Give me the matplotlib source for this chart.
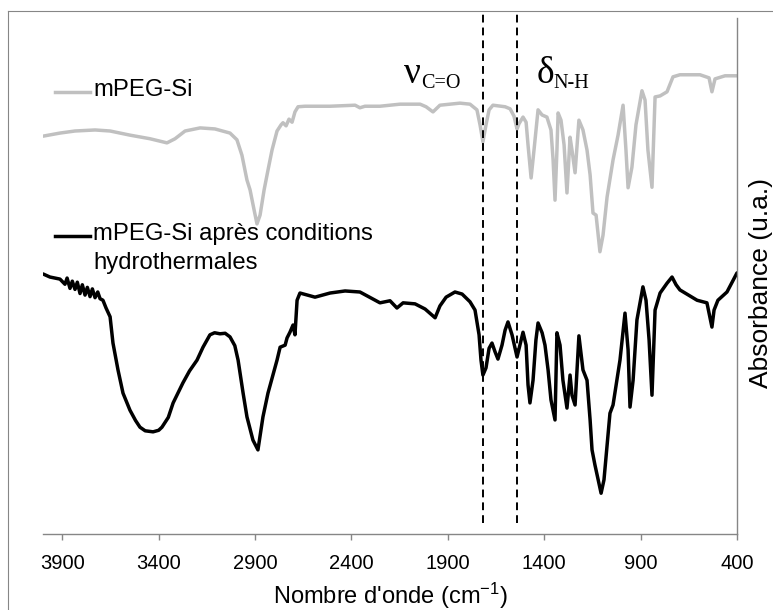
import matplotlib
matplotlib.use("Agg")
import matplotlib.pyplot as plt
from matplotlib.lines import Line2D

plt.rcParams["font.family"] = ["Liberation Sans", "DejaVu Sans"]
plt.rcParams["mathtext.fontset"] = "custom"
plt.rcParams["mathtext.rm"] = "Liberation Sans"
plt.rcParams["mathtext.it"] = "Liberation Sans:italic"
plt.rcParams["mathtext.bf"] = "Liberation Sans:bold"

# --- data (absorbance in arbitrary units) ---
series_names = ["mPEG-Si", "mPEG-Si après conditions\nhydrothermales"]

wn_peg = [4000, 3912, 3834, 3730, 3652, 3549, 3445, 3357, 3315, 3263,
          3185, 3108, 3030, 2994, 2968, 2942, 2926, 2905, 2890, 2874,
          2853, 2833, 2812, 2786, 2765, 2755, 2739, 2724, 2708, 2693,
          2677, 2641, 2511, 2381, 2356, 2330, 2252, 2148, 2044, 2013,
          1977, 1941, 1837, 1785, 1749, 1733, 1718, 1702, 1686, 1666,
          1603, 1577, 1557, 1541, 1531, 1510, 1494, 1484, 1468, 1453,
          1432, 1411, 1386, 1365, 1354, 1344, 1334, 1328, 1313, 1297,
          1282, 1266, 1256, 1240, 1220, 1199, 1178, 1162, 1147, 1131,
          1111, 1095, 1074, 1043, 1017, 991, 976, 965, 945, 924,
          893, 877, 862, 841, 825, 799, 763, 732, 696, 592,
          545, 530, 514, 462, 400]
abs_peg = [77.1, 77.7, 78.1, 78.3, 78.1, 77.3, 76.6, 75.8, 76.6, 78.1,
           78.7, 78.5, 77.7, 76.4, 73.4, 68.6, 66.7, 62.8, 60.1, 61.8,
           66.7, 70.5, 74.4, 78.1, 79.3, 79.7, 79.1, 80.4, 79.8, 81.8,
           82.8, 82.9, 82.9, 83.1, 82.6, 82.9, 82.9, 83.3, 83.3, 82.8,
           81.8, 83.1, 83.5, 83.3, 82.2, 79.3, 76.0, 79.3, 82.2, 83.1,
           82.8, 82.4, 81.0, 78.5, 79.5, 80.8, 79.8, 75.4, 69.0, 74.4,
           82.2, 81.2, 80.8, 78.3, 72.5, 64.7, 74.4, 81.6, 80.2, 75.4,
           66.1, 76.9, 74.4, 70.0, 80.2, 78.3, 74.4, 69.6, 62.2, 61.8,
           54.7, 57.9, 65.3, 72.5, 77.3, 83.1, 74.4, 67.1, 71.1, 79.3,
           85.9, 84.1, 74.4, 67.2, 84.7, 84.9, 85.7, 88.6, 89.0, 89.0,
           88.4, 85.7, 88.2, 88.8, 88.8]

wn_hydro = [4000, 3964, 3912, 3886, 3875, 3860, 3848, 3834, 3822, 3808,
            3796, 3782, 3770, 3756, 3744, 3730, 3716, 3704, 3689, 3673,
            3652, 3637, 3611, 3585, 3549, 3520, 3497, 3470, 3429, 3400,
            3383, 3350, 3325, 3274, 3240, 3201, 3170, 3134, 3110, 3082,
            3055, 3030, 3005, 2988, 2962, 2942, 2911, 2885, 2859, 2833,
            2786, 2770, 2744, 2734, 2719, 2703, 2693, 2682, 2667, 2589,
            2511, 2433, 2356, 2252, 2200, 2164, 2132, 2070, 2018, 1966,
            1941, 1909, 1863, 1826, 1785, 1759, 1738, 1728, 1718, 1702,
            1686, 1671, 1655, 1640, 1619, 1603, 1588, 1567, 1541, 1526,
            1510, 1494, 1484, 1474, 1458, 1443, 1432, 1411, 1396, 1380,
            1365, 1344, 1334, 1318, 1303, 1282, 1266, 1256, 1240, 1230,
            1220, 1199, 1178, 1162, 1152, 1137, 1105, 1090, 1074, 1059,
            1043, 1007, 981, 965, 955, 939, 919, 888, 872, 856,
            841, 825, 799, 763, 737, 716, 696, 607, 556, 530,
            519, 499, 452, 400]
abs_hydro = [50.4, 49.8, 49.4, 48.4, 49.6, 47.6, 49.0, 47.4, 48.8, 46.6,
             48.3, 46.3, 47.8, 46.0, 47.5, 45.8, 46.9, 45.6, 45.3, 43.8,
             42.1, 37.0, 31.8, 27.3, 24.0, 22.0, 20.7, 20.0, 19.8, 20.1,
             20.7, 22.6, 25.4, 29.3, 31.6, 33.7, 36.2, 38.6, 39.0, 38.8,
             38.9, 38.2, 36.5, 33.7, 27.3, 22.7, 18.2, 16.3, 22.7, 27.3,
             33.7, 36.2, 36.6, 38.0, 39.1, 40.5, 38.6, 45.3, 46.7, 45.9,
             46.7, 47.1, 46.9, 44.8, 45.2, 43.8, 44.8, 44.6, 43.6, 41.9,
             44.2, 45.9, 46.9, 46.5, 45.0, 43.4, 38.6, 33.7, 30.8, 32.2,
             36.0, 37.0, 35.3, 33.9, 36.6, 39.5, 41.1, 38.6, 34.3, 36.6,
             39.1, 36.6, 28.9, 25.4, 29.8, 37.6, 40.9, 39.0, 36.6, 31.8,
             26.0, 22.1, 39.0, 36.6, 29.8, 24.4, 30.8, 26.9, 25.0, 31.8,
             38.4, 31.8, 29.8, 22.1, 16.3, 13.4, 7.9, 10.5, 17.2, 23.4,
             25.0, 33.7, 42.8, 35.7, 24.6, 29.8, 41.5, 47.9, 45.3, 37.6,
             26.9, 43.4, 46.7, 48.6, 49.8, 48.3, 47.3, 45.3, 44.8, 40.1,
             43.4, 45.3, 46.9, 50.6]

band_pos = [1720, 1540]          # dashed markers
band_names = [("ν", "C=O"), ("δ", "N-H")]
xticks = [3900, 3400, 2900, 2400, 1900, 1400, 900, 400]

# --- figure ---
W, H = 773, 610
fig = plt.figure(figsize=(W / 100, H / 100), dpi=100)
ax = fig.add_axes([43 / W, 76 / H, 694 / W, 516 / H])

axcol = "#868686"
ax.plot(wn_peg, abs_peg, color="#c0c0c0", lw=2.5,
        solid_joinstyle="round", solid_capstyle="round")
ax.plot(wn_hydro, abs_hydro, color="black", lw=2.5,
        solid_joinstyle="round", solid_capstyle="round")

ax.vlines(band_pos, 2.1, 101.4, colors="black", linestyles=(0, (4, 2.6)),
          lw=1.4, clip_on=False)

ax.set_xlim(4000, 400)
ax.set_ylim(0, 100)
ax.set_xticks(xticks)
ax.set_yticks([])
for s in ["top", "left"]:
    ax.spines[s].set_visible(False)
for s in ["bottom", "right"]:
    ax.spines[s].set_color(axcol)
    ax.spines[s].set_linewidth(1.0)
ax.tick_params(axis="x", direction="out", length=4.5, width=1.0, color=axcol,
               labelsize=14.5, pad=10)

ax.set_xlabel("Nombre d'onde (cm$^{-1}$)", fontsize=17)
ax.xaxis.set_label_coords(0.5, -0.09)
ax.yaxis.set_label_position("right")
ax.set_ylabel("Absorbance (u.a.)", fontsize=19)
ax.yaxis.set_label_coords(1.017, 0.486)

# legend drawn by hand (Excel style, handle beside first line)
leg_y = [0.8566, 0.5775]
leg_col = ["#c0c0c0", "black"]
for name, y, c in zip(series_names, leg_y, leg_col):
    ax.add_line(Line2D([0.017, 0.068], [y, y], color=c, lw=2.5,
                       transform=ax.transAxes, clip_on=False))
    ax.text(0.072, y + 0.025, name, transform=ax.transAxes, fontsize=17.2,
            va="top", ha="left", linespacing=1.42)

# band annotations
serif = ["Liberation Serif", "DejaVu Serif"]
ann_x = [2128, 1437]
sub_x = [2040, 1354]
for (big, small), xb, xs in zip(band_names, ann_x, sub_x):
    ax.text(xb, 87.4, big, family=serif, fontsize=27, va="baseline", ha="left")
    ax.text(xs, 86.4, small, family=serif, fontsize=14.5, va="baseline", ha="left")

# outer chart frame (left and top edges visible)
fx, fy = 8 / W, 1 - 11 / H
fig.add_artist(Line2D([fx, fx], [0, fy], color=axcol, lw=0.8))
fig.add_artist(Line2D([fx, 1], [fy, fy], color=axcol, lw=0.8))

fig.savefig("out.png", dpi=100)
